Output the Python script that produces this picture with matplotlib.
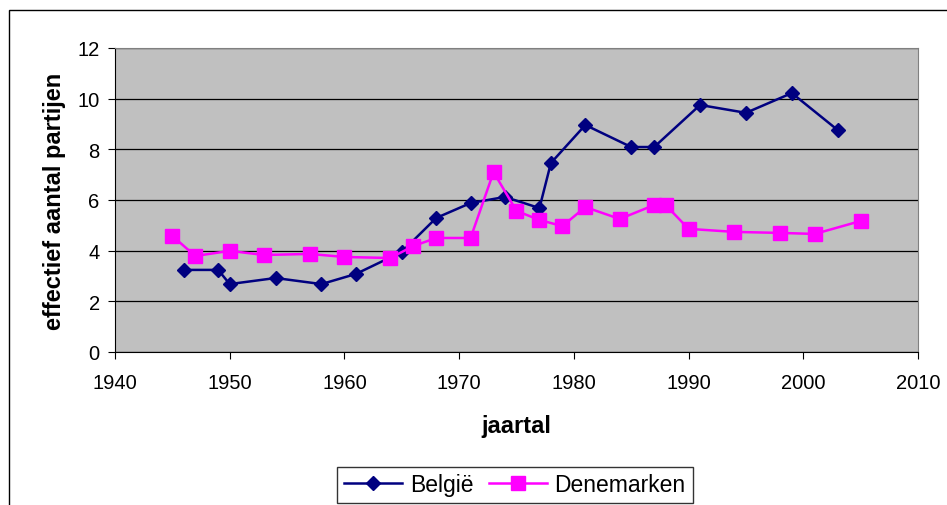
import matplotlib
matplotlib.use("Agg")
import matplotlib.pyplot as plt
from matplotlib.patches import Rectangle

plt.rcParams['font.family'] = ['Liberation Sans', 'DejaVu Sans']

# België
jaren_be = [1946, 1949, 1950, 1954, 1958, 1961, 1965, 1968, 1971, 1974,
            1977, 1978, 1981, 1985, 1987, 1991, 1995, 1999, 2003]
waarden_be = [3.24, 3.24, 2.68, 2.92, 2.68, 3.08, 3.95, 5.29, 5.88, 6.12,
              5.68, 7.46, 8.96, 8.09, 8.09, 9.75, 9.44, 10.22, 8.76]

# Denemarken
jaren_dk = [1945, 1947, 1950, 1953, 1957, 1960, 1964, 1966, 1968, 1971,
            1973, 1975, 1977, 1979, 1981, 1984, 1987, 1988, 1990, 1994,
            1998, 2001, 2005]
waarden_dk = [4.58, 3.79, 3.99, 3.83, 3.87, 3.75, 3.71, 4.18, 4.50, 4.50,
              7.10, 5.57, 5.21, 4.97, 5.72, 5.25, 5.80, 5.80, 4.86, 4.74,
              4.70, 4.66, 5.17]

fig = plt.figure(figsize=(9.47, 5.06), dpi=100)
ax = fig.add_axes([0.1214, 0.3024, 0.848, 0.6008])

# buitenkader van de grafiek
fig.patches.append(Rectangle((9 / 947, -0.1), 2.0, 1 - 11 / 506 + 0.1,
                             transform=fig.transFigure, fill=False,
                             edgecolor='black', linewidth=1))

ax.set_facecolor('#C0C0C0')
ax.plot(jaren_be, waarden_be, '-D', color='#000080', lw=1.8, ms=7.5, label='België')
ax.plot(jaren_dk, waarden_dk, '-s', color='#FF00FF', lw=1.8, ms=10, label='Denemarken')

ax.set_xlim(1940, 2010)
ax.set_ylim(0, 12)
ax.set_xticks(range(1940, 2011, 10))
ax.set_yticks(range(0, 13, 2))
ax.yaxis.grid(True, color='black', lw=0.9)
ax.set_axisbelow(True)
ax.tick_params(labelsize=14.5, direction='out', length=5, color='black')
ax.tick_params(axis='x', pad=10)
ax.tick_params(axis='y', pad=6)

for s in ['top', 'right']:
    ax.spines[s].set_color('#808080')
ax.spines['left'].set_color('black')
ax.spines['bottom'].set_color('black')

ax.set_xlabel('jaartal', fontsize=17, fontweight='bold', labelpad=16)
ax.set_ylabel('effectief aantal partijen', fontsize=17, fontweight='bold', labelpad=8)

leg = fig.legend(loc='center', bbox_to_anchor=(515 / 947, 1 - 486 / 506), ncol=2,
                 fontsize=16.5, frameon=True, fancybox=False, edgecolor='black',
                 handlelength=2.5, columnspacing=0.7, borderpad=0.3, handletextpad=0.35)
leg.get_frame().set_linewidth(1)

fig.savefig('out.png', dpi=100)
